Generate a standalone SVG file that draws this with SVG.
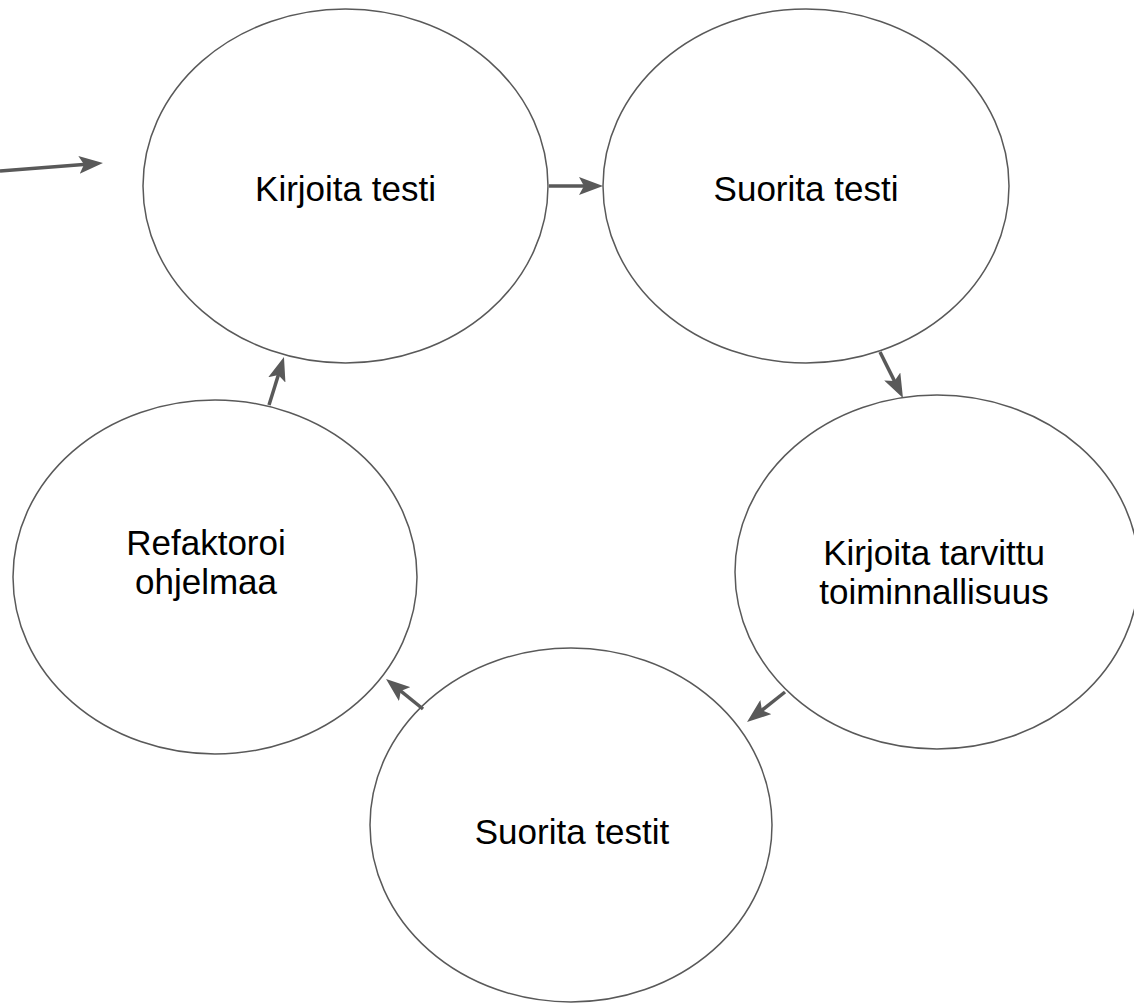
<svg xmlns="http://www.w3.org/2000/svg" width="1134" height="1003" viewBox="0 0 1134 1003">
<defs>
<style>
.n ellipse{fill:#fff;stroke:#595959;stroke-width:1.5}
.n text{font-family:"Liberation Sans",Arial,sans-serif;font-size:35px;fill:#000;text-anchor:middle}
.c line{stroke:#595959;stroke-width:3.5;marker-end:url(#ah)}
</style>
<marker id="ah" viewBox="0 0 24 18" refX="14" refY="9" markerWidth="24" markerHeight="18" orient="auto" markerUnits="userSpaceOnUse">
<path d="M0,0 L24,9 L0,18 L5,9 z" fill="#595959"/>
</marker>
</defs>
<rect width="1134" height="1003" fill="#fff"/>
<g id="n1" class="n"><ellipse cx="345.5" cy="186" rx="202.5" ry="177"/><text x="345.5" y="201">Kirjoita testi</text></g>
<g id="n2" class="n"><ellipse cx="806" cy="186" rx="203" ry="177"/><text x="806" y="201">Suorita testi</text></g>
<g id="n3" class="n"><ellipse cx="937" cy="572" rx="202" ry="177"/><text x="934" y="565">Kirjoita tarvittu</text><text x="934" y="604">toiminnallisuus</text></g>
<g id="n4" class="n"><ellipse cx="571" cy="825" rx="201" ry="177"/><text x="572" y="844">Suorita testit</text></g>
<g id="n5" class="n"><ellipse cx="215" cy="577" rx="202" ry="177"/><text x="206" y="555">Refaktoroi</text><text x="206" y="594">ohjelmaa</text></g>
<g id="connectors" class="c">
<line x1="0" y1="171" x2="93" y2="163.8"/>
<line x1="549" y1="186" x2="593" y2="186"/>
<line x1="880" y1="352" x2="898.5" y2="389.1"/>
<line x1="785" y1="692" x2="754.9" y2="715.8"/>
<line x1="423" y1="709" x2="393.8" y2="685.3"/>
<line x1="269" y1="405" x2="281" y2="366.5"/>
</g>
</svg>
